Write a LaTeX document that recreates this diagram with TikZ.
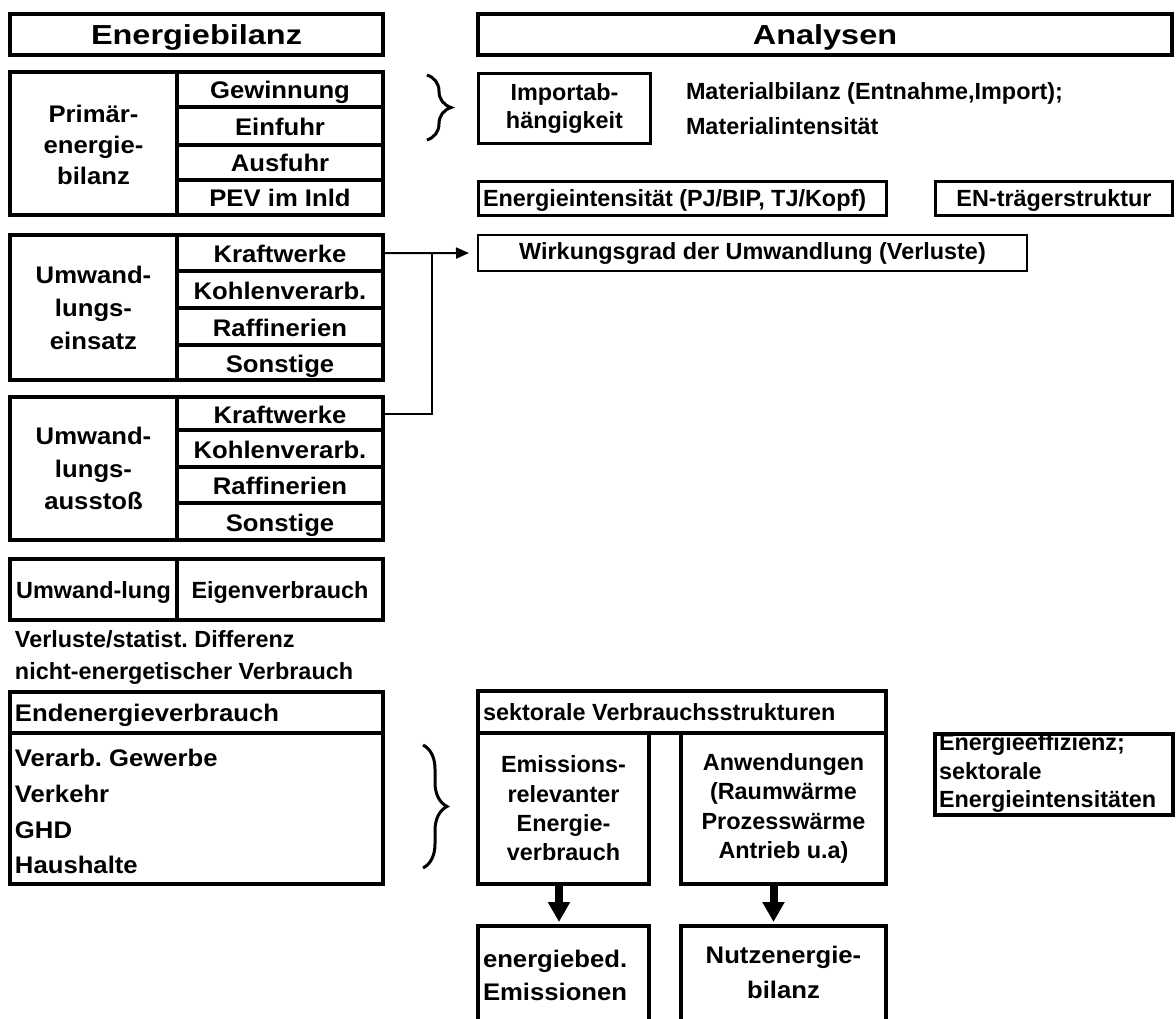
\documentclass[tikz,border=0pt]{standalone}
\usepackage{fontspec}
\setmainfont{Liberation Sans}
\newfontfamily\widefont{Liberation Sans}[FakeStretch=1.07]
\newfontfamily\headfont{Liberation Sans}[FakeStretch=1.18]
\usetikzlibrary{arrows.meta,decorations.pathreplacing}
\frenchspacing
\newcommand\fN[1]{\fontsize{23.4}{#1}\selectfont\bfseries}
\newcommand\fW[1]{\widefont\fontsize{24}{#1}\selectfont\bfseries}
\newcommand\fH{\headfont\fontsize{27.5}{33}\selectfont\bfseries}
\tikzset{
  box/.style={draw, line width=4pt, inner sep=0pt, outer sep=0pt},
  midbox/.style={box, line width=3pt},
  hdr/.style={box, font=\fH, text height=21pt, text depth=0pt},
  cellw/.style={box, font=\fW{33}, text height=19pt, text depth=0pt},
  celln/.style={box, font=\fN{28}, text height=17pt, text depth=0pt},
  txt/.style={inner sep=0pt, outer sep=0pt},
  conn/.style={line width=2pt},
  fat/.style={line width=8pt, -{Triangle[length=20pt,width=21pt]}},
  bracedeco/.style={line width=3pt, decorate, decoration={brace, amplitude=24pt}},
}
\begin{document}
\begin{tikzpicture}[x=1pt,y=-1pt]
\fill[white] (0,0) rectangle (1176,1019);
\useasboundingbox (0,0) rectangle (1176,1019);
\clip (0,0) rectangle (1176,1019);

% ---------------- left column ----------------
\node[hdr, minimum width=373pt, minimum height=41pt] (eb) at (196.5,34.5) {Energiebilanz};

% Primaerenergiebilanz
\node[box, minimum width=167pt, minimum height=143pt] (pe) at (93.5,143.5) {};
\node[txt, font=\fW{31}, align=center] (pet) at (93.5,145) {Primär-\\energie-\\bilanz};
\node[cellw, minimum width=206pt, minimum height=35pt] (gew) at (280,89.5) {Gewinnung};
\node[cellw, minimum width=206pt, minimum height=38pt] (einf) at (280,126) {Einfuhr};
\node[cellw, minimum width=206pt, minimum height=35pt] (ausf) at (280,162.5) {Ausfuhr};
\node[cellw, minimum width=206pt, minimum height=35pt] (pev) at (280,197.5) {PEV im Inld};

% Umwandlungseinsatz
\node[box, font=\fW{33}, align=center, minimum width=167pt, minimum height=145pt] (ue) at (93.5,307.5) {Umwand-\\lungs-\\einsatz};
\node[cellw, minimum width=206pt, minimum height=35.5pt] (kw1) at (280,253.25) {Kraftwerke};
\node[cellw, minimum width=206pt, minimum height=37.3pt] (kv1) at (280,289.6) {Kohlenverarb.};
\node[cellw, minimum width=206pt, minimum height=36.7pt] (rf1) at (280,326.6) {Raffinerien};
\node[cellw, minimum width=206pt, minimum height=35pt] (so1) at (280,362.5) {Sonstige};

% Umwandlungsausstoss
\node[box, font=\fW{32.5}, align=center, minimum width=167pt, minimum height=143pt] (ua) at (93.5,468.5) {Umwand-\\lungs-\\ausstoß};
\node[cellw, minimum width=206pt, minimum height=33pt] (kw2) at (280,413.5) {Kraftwerke};
\node[cellw, minimum width=206pt, minimum height=37pt] (kv2) at (280,448.5) {Kohlenverarb.};
\node[cellw, minimum width=206pt, minimum height=36pt] (rf2) at (280,485) {Raffinerien};
\node[cellw, minimum width=206pt, minimum height=37pt] (so2) at (280,521.5) {Sonstige};

% Umwandlung / Eigenverbrauch
\node[celln, minimum width=167pt, minimum height=61pt] (uwl) at (93.5,589.5) {Umwand-lung};
\node[celln, minimum width=206pt, minimum height=61pt] (eig) at (280,589.5) {Eigenverbrauch};

\node[txt, font=\fN{32}, align=left, anchor=north west] (verl) at (15,631) {Verluste/statist. Differenz\\nicht-energetischer Verbrauch};

% Endenergieverbrauch
\node[box, minimum width=373pt, minimum height=41pt] (eev) at (196.5,712.5) {};
\node[txt, font=\fW{33}, anchor=base west] (eevt) at (15,721) {Endenergieverbrauch};
\node[box, minimum width=373pt, minimum height=151pt] (sekt) at (196.5,808.5) {};
\node[txt, font=\fW{35.7}, align=left, anchor=north west] (sektt) at (15,749.5) {Verarb. Gewerbe\\Verkehr\\GHD\\Haushalte};

% ---------------- right column ----------------
\node[hdr, minimum width=694pt, minimum height=41pt] (an) at (825,34.5) {Analysen};

\draw[bracedeco] (427,75) -- (427,140);
\node[midbox, font=\fN{28}, align=center, minimum width=172pt, minimum height=70pt] (imp) at (564.5,108.5) {Importab-\\hängigkeit};
\node[txt, font=\fN{35}, align=left, anchor=north west] (mat) at (686,83) {Materialbilanz (Entnahme,Import);\\Materialintensität};

\node[midbox, minimum width=408pt, minimum height=34pt] (ei) at (682.5,198.5) {};
\node[txt, font=\fN{28}, anchor=base west] (eit) at (483,207) {Energieintensität (PJ/BIP, TJ/Kopf)};
\node[midbox, font=\fN{28}, text height=17pt, text depth=0pt, minimum width=237pt, minimum height=34pt] (en) at (1054,198.5) {EN-trägerstruktur};

\node[box, line width=2.5pt, font=\fN{28}, text height=14pt, text depth=0pt, minimum width=549pt, minimum height=36pt] (wirk) at (752.5,253) {Wirkungsgrad der Umwandlung (Verluste)};

\coordinate (jn) at (432,253.25);
\draw[conn, -{Triangle[length=13pt,width=11pt]}, shorten >=9pt] (kw1.east) -- (wirk.west);
\draw[conn] (kw2.east) -| (jn);

% sektorale Verbrauchsstrukturen
\node[box, minimum width=408pt, minimum height=42pt] (sek) at (682,712) {};
\node[txt, font=\fN{28}, anchor=base west] (sekl) at (483,720) {sektorale Verbrauchsstrukturen};
\node[box, font=\fN{29.3}, align=center, minimum width=171pt, minimum height=151pt] (emi) at (563.5,808.5) {Emissions-\\relevanter\\Energie-\\verbrauch};
\node[box, font=\fN{29.3}, align=center, minimum width=205pt, minimum height=151pt] (anw) at (783.5,808.5) {Anwendungen\\(Raumwärme\\Prozesswärme\\Antrieb u.a)};

\draw[bracedeco] (423,745) -- (423,868);

\node[box, minimum width=171pt, minimum height=114pt] (ebd) at (563.5,983) {};
\node[txt, font=\fW{33}, align=left, anchor=north west] (ebdt) at (483,950) {energiebed.\\Emissionen};
\node[box, minimum width=205pt, minimum height=114pt] (nut) at (783.5,983) {};
\node[txt, font=\fW{35}, align=center, anchor=north] (nutt) at (783.5,946) {Nutzenergie-\\bilanz};

\draw[fat, shorten >=4pt] ([xshift=-4.5pt]emi.south) -- ([xshift=-4.5pt]ebd.north);
\draw[fat, shorten >=4pt] ([xshift=-10pt]anw.south) -- ([xshift=-10pt]nut.north);

% Energieeffizienz
\node[txt, font=\fN{28.5}, align=left, anchor=north west] (efft) at (939,734) {Energieeffizienz;\\sektorale\\Energieintensitäten};
\node[box, minimum width=238pt, minimum height=81pt] (eff) at (1054,774.5) {};
\end{tikzpicture}
\end{document}
